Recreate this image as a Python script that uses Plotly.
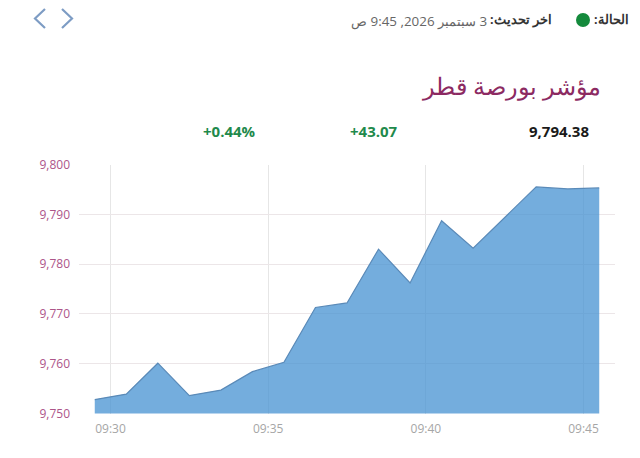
import plotly.graph_objects as go

W = 640
H = 458

times = ["09:29:30", "09:30:30", "09:31:30", "09:32:30", "09:33:30", "09:34:30",
         "09:35:30", "09:36:30", "09:37:30", "09:38:30", "09:39:30", "09:40:30",
         "09:41:30", "09:42:30", "09:43:30", "09:44:30", "09:45:30"]
values = [9752.8, 9753.9, 9760.1, 9753.6, 9754.7, 9758.4, 9760.3, 9771.3, 9772.2,
          9783.0, 9776.2, 9788.7, 9783.2, 9789.4, 9795.5, 9795.1, 9795.3]
y_ticks = [9750, 9760, 9770, 9780, 9790, 9800]

day = "2026-09-03 "
x = [day + t for t in times]


def px(v):
    return v / W


def py(v):
    return 1 - v / H


def rtl(text):
    return "\u202b" + text + "\u202c"


def note(text, right, top, size, color, font="Open Sans", bold=False):
    if bold:
        text = "<b>" + text + "</b>"
    return dict(text=text, x=px(right), y=py(top), xref="paper", yref="paper",
                xanchor="right", yanchor="middle", showarrow=False,
                font=dict(size=size, color=color, family=font))


fig = go.Figure()
fig.add_trace(go.Scatter(x=x, y=values, mode="lines", fill="tozeroy",
                         line=dict(color="#5a8ab8", width=1.2),
                         fillcolor="rgba(70,145,210,0.75)",
                         hoverinfo="skip"))

fig.update_xaxes(domain=[px(79), px(615)], range=[day + "09:29:00", day + "09:46:00"],
                 type="date", dtick=300000, tick0=day + "09:30:00", tickformat="%H:%M",
                 showgrid=True, gridcolor="#e6e6e6", gridwidth=1, zeroline=False,
                 showline=False, ticks="", ticklabelstandoff=6,
                 tickfont=dict(size=12, color="#a6a6a6", family="Open Sans"))
fig.update_yaxes(domain=[py(413.5), py(164.5)], range=[9750, 9800],
                 tickvals=y_ticks, tickformat=",d",
                 showgrid=True, gridcolor="#ece6e8", gridwidth=1, zeroline=False,
                 showline=False, ticks="", ticklabelstandoff=8,
                 tickfont=dict(size=12, color="#ad5589", family="Open Sans"))

fig.update_layout(
    width=W, height=H, autosize=False, showlegend=False,
    margin=dict(l=0, r=0, t=0, b=0, pad=0, autoexpand=False),
    paper_bgcolor="white", plot_bgcolor="white",
    annotations=[
        note(rtl("الحالة:"), 631, 20, 12.5, "#333333", bold=True),
        note(rtl("اخر تحديث:"), 554, 20, 12.5, "#333333", bold=True),
        note(rtl("3 سبتمبر 2026, 9:45 ص"), 489, 21, 13.4, "#666666"),
        note(rtl("مؤشر بورصة قطر"), 603, 86, 23.6, "#8c2a62"),
        note("9,794.38", 591, 131, 15, "#1a1a1a", bold=True),
        note("+43.07", 400, 131, 15, "#1f8a4c", bold=True),
        note("+0.44%", 258, 131, 15, "#1f8a4c", bold=True),
    ],
    shapes=[
        dict(type="circle", xref="paper", yref="paper", x0=px(576), x1=px(590),
             y0=py(27), y1=py(13), fillcolor="#148a3c", line_width=0),
        dict(type="path", xref="paper", yref="paper",
             path=f"M {px(45)} {py(9)} L {px(35)} {py(18.5)} L {px(45)} {py(28)}",
             line=dict(color="#7d9cc4", width=2.2)),
        dict(type="path", xref="paper", yref="paper",
             path=f"M {px(62)} {py(9)} L {px(72)} {py(18.5)} L {px(62)} {py(28)}",
             line=dict(color="#7d9cc4", width=2.2)),
    ],
)

fig.write_html("out.html", config={"displayModeBar": False},
               post_script="document.body.style.margin='0';")
